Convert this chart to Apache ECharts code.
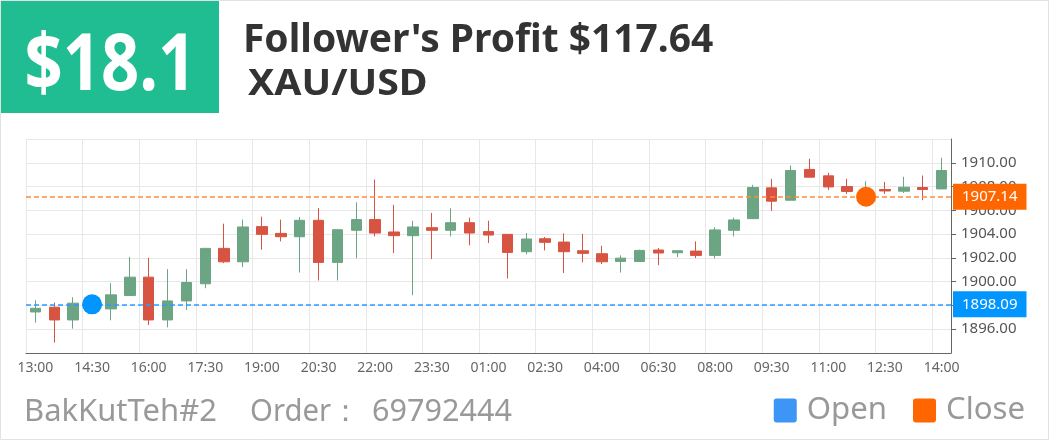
<!DOCTYPE html>
<html><head><meta charset="utf-8">
<script src="https://cdn.jsdelivr.net/npm/echarts@6/dist/echarts.min.js"></script>
<style>html,body{margin:0;padding:0;background:#fff}#c{width:1050px;height:441px}</style>
</head><body><div id="c"></div>
<script>
// ---- data ----
const categories = ['13:00','13:30','14:00','14:30','15:00','15:30','16:00','16:30','17:00','17:30',
  '18:00','18:30','19:00','19:30','20:00','20:30','21:00','21:30','22:00','22:30',
  '23:00','23:30','00:00','00:30','01:00','01:30','02:00','02:30','03:00','03:30',
  '04:00','04:30','06:00','06:30','07:00','07:30','08:00','08:30','09:00','09:30',
  '10:00','10:30','11:00','11:30','12:00','12:30','13:00','13:30','14:00'];
const opens = [1897.45,1897.85,1896.78,1898.19,1897.71,1898.83,1900.38,1896.78,1898.38,1899.82,
  1902.80,1901.67,1904.63,1904.06,1903.78,1905.16,1901.62,1904.32,1905.22,1904.18,
  1903.87,1904.54,1904.32,1904.96,1904.21,1903.98,1902.52,1903.61,1903.33,1902.60,
  1902.35,1901.70,1901.70,1902.66,1902.43,1902.57,1902.21,1904.32,1905.30,1907.89,
  1906.85,1909.44,1908.90,1908.00,1907.40,1907.75,1907.61,1907.92,1907.80];
const closes = [1897.76,1896.78,1898.19,1897.71,1898.89,1900.38,1896.78,1898.38,1899.93,1902.80,
  1901.67,1904.60,1903.98,1903.78,1905.16,1901.62,1904.37,1905.22,1904.09,1903.87,
  1904.60,1904.32,1904.96,1904.09,1903.92,1902.46,1903.59,1903.31,1902.52,1902.38,
  1901.67,1901.98,1902.63,1902.41,1902.60,1902.21,1904.35,1905.19,1907.92,1906.77,
  1909.35,1908.79,1907.97,1907.58,1907.70,1907.63,1907.94,1907.75,1909.35];
const lows = [1896.55,1894.87,1896.05,1897.55,1896.75,1898.80,1896.36,1896.16,1897.62,1899.45,
  1901.56,1901.22,1902.69,1903.39,1900.77,1900.10,1900.10,1901.98,1903.81,1902.41,
  1898.86,1901.90,1903.81,1903.05,1903.25,1900.27,1902.29,1902.63,1900.72,1901.62,
  1901.48,1900.77,1901.70,1901.39,1902.07,1901.98,1901.95,1903.81,1905.30,1905.95,
  1906.85,1908.79,1907.72,1907.38,1907.20,1907.38,1907.46,1906.85,1907.80];
const highs = [1898.44,1898.24,1898.69,1898.50,1899.87,1902.07,1902.01,1901.05,1901.05,1902.85,
  1904.88,1905.22,1905.47,1905.22,1905.44,1906.20,1904.40,1906.68,1908.59,1906.46,
  1905.13,1905.78,1906.17,1905.39,1905.13,1904.00,1904.09,1903.76,1904.06,1904.01,
  1903.02,1902.21,1902.69,1902.83,1902.63,1903.39,1904.57,1905.39,1908.14,1908.65,
  1909.77,1910.34,1909.15,1908.65,1908.45,1908.39,1908.82,1908.93,1910.42];
const yMin = 1894, yMax = 1912, yStep = 2;
const openTime = '14:30', openPrice = 1898.09;
const closeTime = '12:00', closePrice = 1907.14;
const profitLabel = '$18.1';
const followerProfit = 117.64;
const symbolName = 'XAU/USD';
const accountName = 'BakKutTeh#2';
const orderNo = '69792444';

// ---- text fitting helper (layout only) ----
const cv = document.createElement('canvas').getContext('2d');
function fitText(text, weight, family, left, capTop, capH, width, color) {
  cv.textBaseline = 'middle';
  cv.font = weight + ' 100px ' + family;
  const h = cv.measureText('H');
  const ratio = (h.actualBoundingBoxAscent + h.actualBoundingBoxDescent) / 100;
  const fs = capH / ratio;
  const font = weight + ' ' + fs.toFixed(2) + 'px ' + family;
  cv.font = font;
  const m = cv.measureText(text);
  const gw = m.actualBoundingBoxLeft + m.actualBoundingBoxRight;
  const sx = width / gw;
  const asc = cv.measureText('H').actualBoundingBoxAscent;
  return { type: 'text', x: left, y: capTop + asc, scaleX: sx, silent: true, z: 10,
    style: { text: text, x: m.actualBoundingBoxLeft, y: 0, fill: color, font: font,
      align: 'left', verticalAlign: 'middle' } };
}
function fontForWidth(text, family, width) {
  cv.font = '100px ' + family;
  const m = cv.measureText(text);
  return 100 * width / (m.actualBoundingBoxLeft + m.actualBoundingBoxRight);
}

const FAM = '"Noto Sans"';
const candles = categories.map((c, i) => [opens[i], closes[i], lows[i], highs[i]]);
const legendFs = fontForWidth('Open', FAM, 76);
const legendIcon = 'path://M3,0 H21 A3,3 0 0 1 24,3 V22 A3,3 0 0 1 21,25 H3 A3,3 0 0 1 0,22 V3 A3,3 0 0 1 3,0 Z';

function priceLine(value, color, lineColor) {
  return {
    symbol: 'none', silent: true, precision: 2,
    lineStyle: { color: lineColor, type: [5, 3], width: 1.5, opacity: 1 },
    label: { position: 'end', distance: 2, color: '#fff', fontSize: 15, fontFamily: 'Noto Sans',
      backgroundColor: color, padding: [6, 9, 5, 9], formatter: p => Number(p.value).toFixed(2) },
    data: [{ yAxis: value }]
  };
}

const chart = echarts.init(document.getElementById('c'), null, { renderer: 'canvas' });
chart.setOption({
  animation: false,
  backgroundColor: '#fff',
  grid: { left: 26, right: 99, top: 139, bottom: 88 },
  legend: {
    right: 25, top: 395, padding: 0, itemWidth: 23, itemHeight: 25, itemGap: 26, icon: legendIcon,
    selectedMode: false,
    textStyle: { fontSize: legendFs, color: '#999', fontFamily: 'Noto Sans', padding: [0, 0, 0, 5] },
    data: [{ name: 'Open', itemStyle: { color: '#3d95f5' } }, { name: 'Close', itemStyle: { color: '#ff6600' } }]
  },
  xAxis: {
    type: 'category', data: categories, boundaryGap: true,
    axisLine: { lineStyle: { color: '#666' } },
    axisTick: { alignWithLabel: true, interval: 2, length: 5, lineStyle: { color: '#666' } },
    axisLabel: { interval: 2, color: '#666', fontSize: 14, fontFamily: 'Noto Sans', margin: 8 },
    splitLine: { show: true, interval: 2, lineStyle: { color: '#e8e8e8' } }
  },
  yAxis: {
    type: 'value', position: 'right', min: yMin, max: yMax, interval: yStep,
    axisLine: { show: true, lineStyle: { color: '#666' } },
    axisTick: { show: true, length: 5, lineStyle: { color: '#666' } },
    axisLabel: { showMinLabel: false, showMaxLabel: false, formatter: v => v.toFixed(2),
      color: '#555', fontSize: 15, fontFamily: 'Noto Sans', margin: 10 },
    splitLine: { lineStyle: { color: '#e8e8e8' } }
  },
  series: [
    {
      type: 'candlestick', name: symbolName, data: candles, barWidth: 11,
      itemStyle: { color: '#6ba583', color0: '#d75442', borderColor: '#6ba583', borderColor0: '#d75442', borderWidth: 1 }
    },
    { type: 'scatter', name: 'Open', z: 5, symbolSize: 20, itemStyle: { color: '#0095ff', opacity: 1 },
      data: [[categories.indexOf(openTime), openPrice]], markLine: priceLine(openPrice, '#0095ff', '#2b9cff') },
    { type: 'scatter', name: 'Close', z: 5, symbolSize: 20, itemStyle: { color: '#ff6600', opacity: 1 },
      data: [[categories.indexOf(closeTime), closePrice]], markLine: priceLine(closePrice, '#ff6600', '#ff8a3d') }
  ],
  graphic: [
    { type: 'rect', silent: true, z: 1, shape: { x: 0.5, y: 0.5, width: 1048, height: 439 },
      style: { fill: null, stroke: '#e2e2e2', lineWidth: 1 } },
    { type: 'rect', silent: true, z: 2, shape: { x: 1, y: 1, width: 218, height: 112 }, style: { fill: '#20bd92' } },
    fitText(profitLabel, 'bold', FAM, 27, 33, 57, 159, '#fff'),
    fitText("Follower's Profit $" + followerProfit.toFixed(2), 'bold', FAM, 246, 24, 28, 467, '#333'),
    fitText(symbolName, 'bold', FAM, 248, 69, 26, 178, '#333'),
    fitText(accountName, 'normal', FAM, 27, 399, 22.5, 189, '#999'),
    fitText('Order\uFF1A', 'normal', FAM, 251, 399, 22.5, 97, '#999'),
    fitText(orderNo, 'normal', FAM, 373, 399, 22.5, 139, '#999')
  ]
});
</script>
</body></html>
